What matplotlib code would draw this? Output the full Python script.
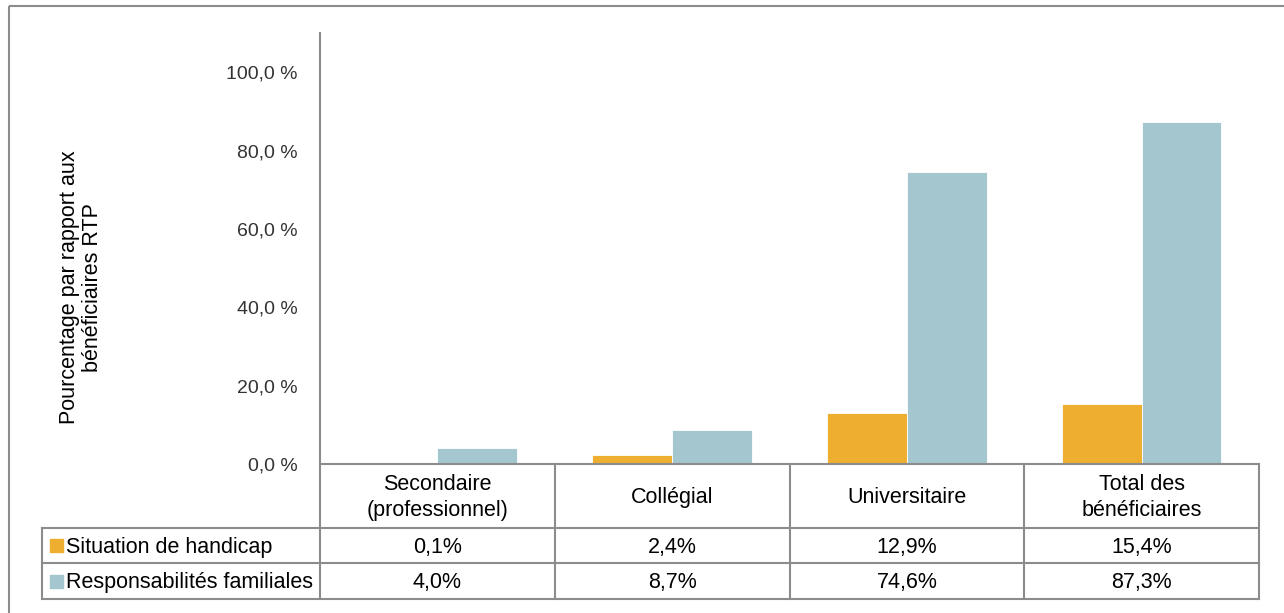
import matplotlib.pyplot as plt
import numpy as np
from matplotlib.patches import Rectangle

plt.rcParams['font.family'] = ['Liberation Sans', 'DejaVu Sans']

# Data
categories = ['Secondaire\n(professionnel)', 'Collégial', 'Universitaire', 'Total des\nbénéficiaires']
series_names = ['Situation de handicap', 'Responsabilités familiales']
handicap = [0.1, 2.4, 12.9, 15.4]
familiales = [4.0, 8.7, 74.6, 87.3]
colors = ['#EEAE30', '#A3C6CF']
yticks = [0, 20, 40, 60, 80, 100]

W, H = 1284, 613
fig = plt.figure(figsize=(W / 100, H / 100), dpi=100)

# pixel geometry of the plot area
x0, x1 = 320, 1259
y_top, y_zero = 33, 464
ax = fig.add_axes([x0 / W, 1 - y_zero / H, (x1 - x0) / W, (y_zero - y_top) / H])

x = np.arange(len(categories))
bw = 0.34
for vals, col, off in [(handicap, colors[0], -bw / 2), (familiales, colors[1], bw / 2)]:
    ax.bar(x + off, vals, bw, color=col, edgecolor='white', linewidth=0.6, zorder=2)

ax.set_xlim(-0.5, len(categories) - 0.5)
ax.set_ylim(0, 110)
ax.set_yticks(yticks)
ax.set_yticklabels([f'{t:.1f}'.replace('.', ',') + ' %' for t in yticks], fontsize=14, color='#333333')
ax.tick_params(axis='y', length=0, pad=16)
ax.set_xticks([])
for s in ['top', 'right', 'bottom']:
    ax.spines[s].set_visible(False)
ax.spines['left'].set_color('#8c8c8c')
ax.spines['left'].set_linewidth(1.5)
ax.set_ylabel('Pourcentage par rapport aux\nbénéficiaires RTP', fontsize=15.5, labelpad=0, linespacing=1.1)
ax.yaxis.set_label_coords((103 - x0) / (x1 - x0), 0.41)

# overlays in pixel coordinates for the data table and frame
ov = fig.add_axes([0, 0, 1, 1], zorder=-1)
ov.set_xlim(0, W)
ov.set_ylim(H, 0)
ov.axis('off')
ov2 = fig.add_axes([0, 0, 1, 1])
ov2.set_xlim(0, W)
ov2.set_ylim(H, 0)
ov2.axis('off')

ov.add_patch(Rectangle((9, 6), W, H, fill=False, edgecolor='#8c8c8c', linewidth=1.5))

lc = '#8c8c8c'
lw = 1.5
tl, r0, r1, r2, r3 = 42, 464, 528, 563, 599
cw = (x1 - x0) / len(categories)
ov2.plot([x0, x1], [r0, r0], color=lc, lw=lw)
for yy in [r1, r2, r3]:
    ov2.plot([tl, x1], [yy, yy], color=lc, lw=lw)
ov2.plot([tl, tl], [r1, r3], color=lc, lw=lw)
for i in range(len(categories) + 1):
    xx = x0 + i * cw
    ov2.plot([xx, xx], [r0, r3], color=lc, lw=lw)

fs = 15.5
dy = 1.5
for i, cat in enumerate(categories):
    cx = x0 + (i + 0.5) * cw
    ov2.text(cx, (r0 + r1) / 2 + dy, cat, ha='center', va='center', fontsize=fs, linespacing=1.3)
    ov2.text(cx, (r1 + r2) / 2 + dy, f'{handicap[i]:.1f}'.replace('.', ',') + '%',
             ha='center', va='center', fontsize=fs)
    ov2.text(cx, (r2 + r3) / 2 + dy, f'{familiales[i]:.1f}'.replace('.', ',') + '%',
             ha='center', va='center', fontsize=fs)

for name, col, (ya, yb) in zip(series_names, colors, [(r1, r2), (r2, r3)]):
    yc = (ya + yb) / 2
    ov2.add_patch(Rectangle((50, yc - 6.5), 13, 13, color=col))
    ov2.text(66, yc + dy, name, ha='left', va='center', fontsize=fs)

fig.savefig('out.png', dpi=100)
